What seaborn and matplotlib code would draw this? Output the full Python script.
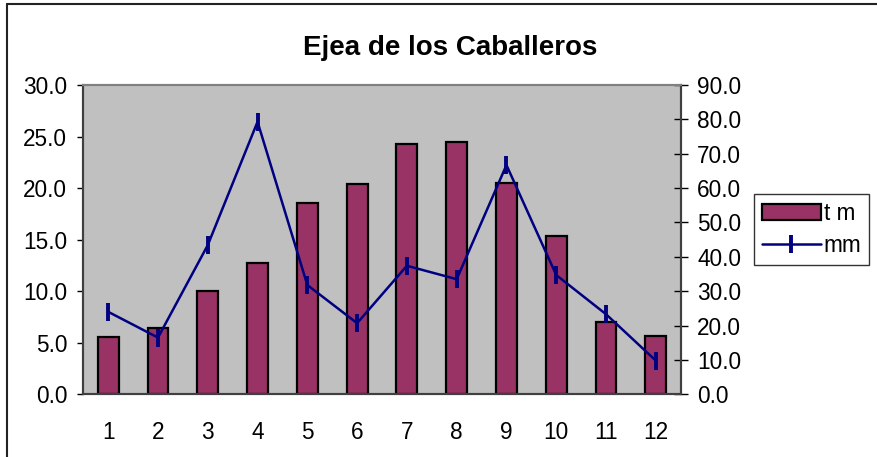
import numpy as np
import pandas as pd
import matplotlib
matplotlib.use("Agg")
import matplotlib.pyplot as plt
from matplotlib.patches import Patch
from matplotlib.lines import Line2D
import seaborn as sns

months = ["1", "2", "3", "4", "5", "6", "7", "8", "9", "10", "11", "12"]
tm = [5.6, 6.4, 10.0, 12.7, 18.6, 20.4, 24.3, 24.5, 20.5, 15.4, 7.0, 5.7]
mm = [24.0, 16.5, 43.4, 79.3, 31.8, 20.7, 37.4, 33.5, 66.7, 34.7, 23.3, 9.8]
left_ticks = [0, 5, 10, 15, 20, 25, 30]
right_ticks = [0, 10, 20, 30, 40, 50, 60, 70, 80, 90]
title = "Ejea de los Caballeros"

sns.set_style("white")
plt.rcParams["font.family"] = ["Liberation Sans", "DejaVu Sans"]
plt.rcParams["text.color"] = "black"
plt.rcParams["xtick.color"] = "black"
plt.rcParams["ytick.color"] = "black"

FS = 16.3
W, H = 878, 457
fig = plt.figure(figsize=(W / 100, H / 100), dpi=100)
ax = fig.add_axes([83.3 / W, 1 - 394.3 / H, (680.7 - 83.3) / W, (394.3 - 85) / H])
ax.set_facecolor("#C0C0C0")

df = pd.DataFrame({"month": months, "tm": tm, "mm": mm, "pos": np.arange(len(months))})

sns.barplot(data=df, x="month", y="tm", ax=ax, color="#993366", saturation=1,
            width=0.42, edgecolor="black", linewidth=1.6, zorder=2)
ax.set_xlim(-0.5, len(months) - 0.5)
ax.set_ylim(0, 30)
ax.set_yticks(left_ticks)
ax.set_yticklabels([f"{v:.1f}" for v in left_ticks])
ax.set_xlabel("")
ax.set_ylabel("")
ax.set_xticks(np.arange(len(months)))
ax.set_xticklabels(months)
ax.set_xticks(np.arange(-0.5, len(months), 1.0), minor=True)
ax.tick_params(axis="x", which="major", length=0, labelsize=FS, pad=19, colors="black")
ax.tick_params(axis="x", which="minor", length=5, width=1, direction="out", color="black")
ax.tick_params(axis="y", length=4.5, width=1, direction="out", labelsize=FS, pad=7,
               color="black", labelcolor="black")

ax2 = ax.twinx()
sns.lineplot(data=df, x="pos", y="mm", ax=ax2, color="#000080", linewidth=1.8,
             marker="|", markersize=13, markeredgewidth=2.8, markeredgecolor="#000080")
ax2.set_ylim(0, 90)
ax2.set_yticks(right_ticks)
ax2.set_yticklabels([f"{v:.1f}" for v in right_ticks])
ax2.set_xlim(-0.5, len(months) - 0.5)
ax2.set_xlabel("")
ax2.set_ylabel("")
ax2.tick_params(axis="y", length=10, width=1, direction="inout", labelsize=FS, pad=7,
                color="black", labelcolor="black")

for a in (ax, ax2):
    a.spines["top"].set_color("#808080")
    a.spines["top"].set_linewidth(1.5)
    for s in ("left", "bottom", "right"):
        a.spines[s].set_color("#404040")
        a.spines[s].set_linewidth(1.5)

fig.text(450 / W, 1 - 48 / H, title, ha="center", va="center", fontsize=20,
         fontweight="bold", color="black")

handles = [Patch(facecolor="#993366", edgecolor="black", linewidth=1.6),
           Line2D([], [], color="#000080", linewidth=1.8, marker="|", markersize=13,
                  markeredgewidth=2.8)]
leg = fig.legend(handles, ["t m", "mm"], loc="upper left",
                 bbox_to_anchor=(754 / W, 1 - 194 / H), bbox_transform=fig.transFigure,
                 fontsize=FS, frameon=True, fancybox=False, edgecolor="black",
                 handlelength=2.6, handleheight=0.65, handletextpad=0.12,
                 labelspacing=0.4, borderpad=0.35, borderaxespad=0)
leg.get_frame().set_linewidth(1.0)

fig.add_artist(Line2D([7 / W, 7 / W], [0, 1 - 4 / H], transform=fig.transFigure,
                      color="#222222", linewidth=1.5))
fig.add_artist(Line2D([7 / W, 877 / W], [1 - 4 / H, 1 - 4 / H], transform=fig.transFigure,
                      color="#222222", linewidth=1.5))

fig.savefig("out.png", dpi=100)
